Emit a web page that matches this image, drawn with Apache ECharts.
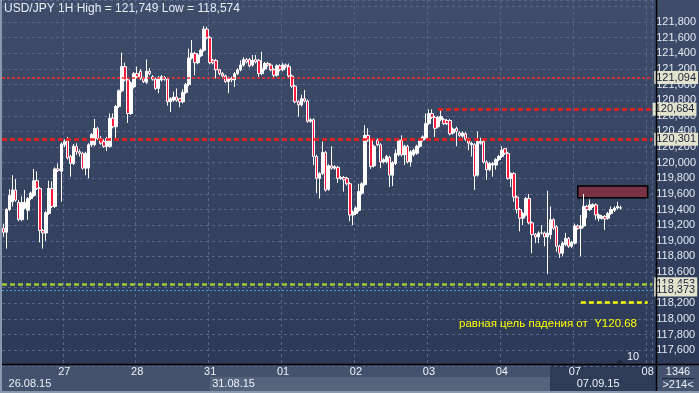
<!DOCTYPE html>
<html><head><meta charset="utf-8">
<script src="https://cdn.jsdelivr.net/npm/echarts@6/dist/echarts.min.js"></script>
<style>html,body{margin:0;padding:0;background:#34415f;}#c{width:699px;height:393px;}</style>
</head><body><div id="c"></div>
<script>
// ---- data (USD/JPY, 1H) ----
const opens = [119.16,119.11,119.40,119.50,119.65,119.49,119.27,119.42,119.39,119.54,119.58,119.77,119.67,119.13,119.10,119.35,119.67,119.44,119.92,119.89,
120.23,120.28,120.08,119.99,120.21,120.14,120.12,119.93,119.93,120.23,120.23,120.44,120.31,120.27,120.21,120.21,120.57,120.46,120.72,120.92,121.23,121.06,120.63,120.97,
121.14,121.17,121.08,121.03,121.17,121.10,121.07,120.95,121.06,121.09,121.07,120.78,120.80,120.84,120.82,120.78,120.90,121.00,121.34,121.40,121.28,121.37,121.44,121.71,
121.60,121.31,121.31,121.19,121.14,121.11,121.04,121.08,121.06,121.14,121.19,121.25,121.32,121.32,121.25,121.32,121.31,121.14,121.20,121.27,121.25,121.19,121.12,121.24,
121.19,121.25,121.23,121.11,120.98,120.78,120.74,120.82,120.79,120.53,120.55,120.08,119.80,119.86,120.13,119.66,119.96,119.93,119.94,119.80,119.81,119.80,119.73,119.33,
119.35,119.39,119.61,119.72,120.35,120.29,119.96,120.29,120.23,120.01,120.01,120.07,119.84,119.99,120.10,120.29,120.10,120.21,120.01,120.10,120.12,120.21,120.29,120.32,
120.50,120.63,120.58,120.46,120.55,120.55,120.54,120.54,120.38,120.44,120.38,120.34,120.37,120.30,120.23,120.23,119.84,120.25,120.27,120.01,119.91,119.97,119.97,120.04,
120.08,120.18,120.12,119.80,119.86,119.56,119.40,119.29,119.33,119.54,119.23,119.08,119.05,119.10,119.10,119.05,119.08,119.27,119.18,118.93,118.84,118.95,119.03,118.93,
118.97,119.19,119.16,119.19,119.44,119.40,119.44,119.46,119.29,119.29,119.31,119.29,119.35,119.39,119.42,119.42];
const closes = [119.11,119.40,119.58,119.65,119.52,119.27,119.49,119.49,119.54,119.61,119.77,119.67,119.13,119.10,119.36,119.67,119.44,119.92,119.90,120.24,
120.27,120.06,119.99,120.21,120.14,120.12,119.93,120.12,120.23,120.36,120.44,120.31,120.25,120.21,120.31,120.57,120.46,120.72,120.92,121.23,121.06,120.63,121.02,121.14,
121.10,121.08,121.04,121.17,121.14,121.07,120.95,121.09,121.10,121.07,120.78,120.82,120.84,120.80,120.78,120.90,121.00,121.34,121.40,121.28,121.38,121.44,121.71,121.60,
121.28,121.28,121.19,121.14,121.11,121.04,121.08,121.06,121.14,121.19,121.25,121.32,121.29,121.24,121.31,121.29,121.14,121.20,121.27,121.25,121.19,121.12,121.24,121.19,
121.25,121.23,121.11,120.98,120.78,120.74,120.82,120.79,120.53,120.55,120.08,119.80,119.86,120.13,119.65,119.96,119.93,119.95,119.80,119.81,119.78,119.73,119.33,119.37,
119.42,119.63,119.73,120.35,120.29,119.95,120.21,120.23,120.01,120.04,120.08,119.84,120.00,120.12,120.29,120.10,120.21,120.01,120.14,120.16,120.21,120.29,120.33,120.50,
120.63,120.58,120.44,120.58,120.59,120.50,120.50,120.37,120.43,120.40,120.35,120.38,120.30,120.25,120.25,119.83,120.27,120.27,120.01,119.91,119.99,119.99,120.04,120.08,
120.16,120.12,119.80,119.86,119.56,119.40,119.29,119.35,119.54,119.23,119.08,119.05,119.10,119.10,119.05,119.10,119.27,119.16,118.93,118.84,118.97,119.03,118.93,118.98,
119.19,119.16,119.19,119.44,119.40,119.46,119.46,119.33,119.33,119.31,119.28,119.35,119.40,119.42,119.44,119.423];
const lows = [119.05,118.90,119.38,119.44,119.50,119.25,119.25,119.40,119.27,119.52,119.56,119.65,118.98,118.90,119.00,119.33,119.42,119.42,119.88,119.50,
120.20,120.04,119.82,119.97,120.10,120.08,119.91,119.84,119.80,120.20,120.21,120.29,120.23,120.19,120.15,120.19,120.44,120.31,120.70,120.90,121.04,120.51,120.61,120.95,
121.08,121.06,121.02,121.01,121.12,121.05,120.93,120.89,121.04,121.05,120.73,120.65,120.78,120.78,120.71,120.76,120.88,120.98,121.32,121.12,121.26,121.35,121.42,121.58,
121.26,121.26,121.08,121.12,121.08,121.02,120.89,121.03,120.97,121.12,121.17,121.23,121.27,121.22,121.23,121.27,121.10,121.12,121.18,121.23,121.17,121.09,121.10,121.17,
121.17,121.21,121.09,120.96,120.76,120.59,120.72,120.77,120.51,120.51,119.97,119.61,119.54,119.84,119.63,119.64,119.91,119.91,119.74,119.78,119.63,119.71,119.25,119.20,
119.33,119.37,119.59,119.70,120.27,119.92,119.94,120.21,119.93,119.99,119.99,119.69,119.70,119.97,120.08,120.08,119.97,119.99,119.95,120.08,120.10,120.19,120.27,120.30,
120.48,120.56,120.33,120.44,120.53,120.48,120.48,120.35,120.36,120.21,120.33,120.32,120.28,120.16,120.08,119.65,119.82,120.23,119.99,119.78,119.89,119.82,119.91,120.02,
120.06,120.10,119.78,119.69,119.50,119.35,119.12,119.20,119.31,119.21,118.84,118.97,118.97,119.08,118.93,118.574,119.02,119.14,118.86,118.78,118.80,118.93,118.91,118.91,
118.95,119.14,118.80,119.17,119.29,119.38,119.42,119.27,119.25,119.27,119.14,119.27,119.33,119.37,119.40,119.40];
const highs = [119.22,119.42,119.66,119.84,119.79,119.52,119.57,119.65,119.56,119.63,119.92,119.89,119.69,119.15,119.38,119.77,119.76,119.94,119.99,120.26,
120.30,120.33,120.10,120.24,120.25,120.17,120.14,120.14,120.25,120.38,120.56,120.46,120.34,120.30,120.33,120.63,120.63,120.74,120.94,121.41,121.28,121.08,121.04,121.16,
121.23,121.20,121.10,121.32,121.21,121.12,121.09,121.11,121.12,121.11,121.09,120.84,120.91,120.95,120.83,120.94,121.02,121.46,121.57,121.42,121.40,121.46,121.749,121.74,
121.62,121.33,121.33,121.20,121.16,121.13,121.10,121.10,121.16,121.21,121.31,121.35,121.34,121.34,121.38,121.38,121.33,121.42,121.29,121.29,121.27,121.21,121.26,121.26,
121.28,121.27,121.27,121.13,121.00,120.80,120.87,120.93,120.81,120.57,120.57,120.10,119.88,120.27,120.15,119.98,120.21,119.97,119.96,119.83,119.83,119.82,119.75,119.39,
119.44,119.73,119.75,120.48,120.44,120.31,120.23,120.31,120.25,120.06,120.10,120.09,120.02,120.17,120.31,120.35,120.23,120.23,120.16,120.18,120.23,120.31,120.35,120.63,
120.68,120.684,120.60,120.60,120.68,120.57,120.56,120.56,120.45,120.46,120.40,120.40,120.39,120.32,120.27,120.25,120.40,120.32,120.29,120.03,120.01,120.01,120.06,120.10,
120.21,120.19,120.14,119.88,119.88,119.58,119.42,119.37,119.56,119.60,119.25,119.10,119.12,119.20,119.12,119.64,119.44,119.29,119.20,118.95,118.99,119.10,119.05,119.00,
119.22,119.21,119.33,119.60,119.46,119.53,119.48,119.48,119.35,119.33,119.33,119.37,119.44,119.44,119.50,119.45];

// days shown on the time axis and number of hourly slots in each
const dayDates = ['26.08.15','27.08.15','28.08.15','31.08.15','01.09.15','02.09.15','03.09.15','04.09.15','07.09.15','08.09.15'];
const dayLabels = ['26','27','28','31','01','02','03','04','07','08'];
const daySlots = [20,24,24,24,24,24,24,24,24,2];
const weekStartDates = ['26.08.15','31.08.15','07.09.15'];

// price axis range and horizontal levels
const yMin = 117.4, yMax = 122.083, yStep = 0.2;
const resistance1 = 121.094, resistance2 = 120.684, support1 = 120.301;
const lastPrice = 119.423, greenLevel = 118.453, blueLevel = 118.373, targetLevel = 118.216;
const zoneTop = 119.70, zoneBottom = 119.55;
const titleText = 'USD/JPY 1H High = 121,749 Low = 118,574';
const noteText = 'равная цель падения от  Y120.68';

// ---- build ----
const cats = [], dayStartIdx = [], dayOfIdx = [];
daySlots.forEach((n, d) => {
  dayStartIdx.push(cats.length);
  for (let k = 0; k < n; k++) {
    const h = 24 - (d === daySlots.length - 1 ? 24 : n) + k;
    cats.push(dayDates[d] + ' ' + String(h).padStart(2, '0') + ':00');
    dayOfIdx.push(d);
  }
});
const weekStartIdx = weekStartDates.map(w => cats.findIndex(c => c.startsWith(w)));
const dimFrom = dayStartIdx[8];
const candles = opens.map((o, i) => [o, closes[i], lows[i], highs[i]]);
const fmt = v => v.toFixed(3).replace('.', ',');
const FONT = 'Liberation Sans, Arial, sans-serif';
const tag = (v) => ({show: true, position: 'end', distance: 2, formatter: fmt(v), backgroundColor: '#e2e2cd',
  color: '#18213a', fontSize: 11, fontFamily: FONT, lineHeight: 12, padding: [1, 2, 0, 2]});
const lastIdx = cats.length - 1;

const chart = echarts.init(document.getElementById('c'), null, {renderer: 'canvas'});
chart.setOption({
  animation: false,
  backgroundColor: {type: 'linear', x: 0, y: 0, x2: 0, y2: 1,
    colorStops: [{offset: 0, color: '#3f4d6b'}, {offset: 1, color: '#2b3856'}]},
  textStyle: {fontFamily: FONT},
  grid: {left: 2, right: 43, top: 0, bottom: 27.24, containLabel: false},
  xAxis: [{
    type: 'category', data: cats, boundaryGap: true,
    axisLine: {show: false}, axisTick: {show: false},
    axisLabel: {
      interval: (i) => dayStartIdx.indexOf(i) > 0,
      formatter: (v, i) => dayLabels[dayOfIdx[i]],
      color: (v, i) => (i >= dimFrom ? '#7f8da6' : '#eef2f8'),
      fontSize: 11, margin: 1
    },
    splitLine: {show: true, interval: (i) => dayStartIdx.indexOf(i) > 0,
      lineStyle: {color: '#56668a', width: 1, type: [3, 3]}}
  }, {
    type: 'category', data: cats, boundaryGap: true, position: 'bottom', offset: 12,
    axisLine: {show: false}, axisTick: {show: false}, splitLine: {show: false},
    axisLabel: {
      interval: (i) => weekStartIdx.indexOf(i) >= 0,
      formatter: (v, i) => (i === 0 ? '{f|' + v.split(' ')[0] + '}' : '{n|' + v.split(' ')[0] + '}'),
      align: 'left', fontSize: 11, margin: 1,
      color: (v, i) => (i >= dimFrom ? '#7f8da6' : '#eef2f8'),
      rich: {f: {padding: [0, 0, 0, 5], fontSize: 11}, n: {padding: [0, 0, 0, 2], fontSize: 11}}
    }
  }],
  yAxis: {
    type: 'value', position: 'right', min: yMin, max: yMax, interval: yStep,
    axisLine: {show: false}, axisTick: {show: false},
    splitLine: {show: true, lineStyle: {color: '#56668a', width: 1, type: [3, 3]}},
    axisLabel: {color: '#e4e9f2', fontSize: 11, margin: 4,
      formatter: v => (v > 121.9 || v < 117.5) ? '' : fmt(v)}
  },
  series: [{
    type: 'candlestick', data: candles, barWidth: 3, clip: true,
    itemStyle: {color: '#ffffff', color0: '#ff1b3d', borderColor: '#ffffff', borderColor0: '#ffffff', borderWidth: 1},
    markArea: {silent: true, data: [[
      {coord: [dayStartIdx[8] + 1, zoneTop], itemStyle: {color: '#7a3246', borderColor: '#000000', borderWidth: 1.5}},
      {coord: [lastIdx - 1, zoneBottom]}
    ]]},
    markLine: {
      silent: true, symbol: ['none', 'none'], animation: false,
      data: [
        {yAxis: resistance1, lineStyle: {color: '#ff2a2a', width: 1.5, type: [3, 2]}, label: tag(resistance1)},
        [{coord: [143, resistance2], lineStyle: {color: '#ff1a1a', width: 2.5, type: [5, 3]}, label: tag(resistance2)},
         {coord: [lastIdx, resistance2], lineStyle: {color: '#ff1a1a', width: 2.5, type: [5, 3]}, label: tag(resistance2)}],
        {yAxis: support1, lineStyle: {color: '#ff1a1a', width: 2.5, type: [5, 3]}, label: tag(support1)},
        {yAxis: lastPrice, lineStyle: {opacity: 0}, label: tag(lastPrice)},
        {yAxis: greenLevel, lineStyle: {color: '#9dcc3a', width: 2.5, type: [5, 3]}, label: tag(greenLevel)},
        {yAxis: blueLevel, lineStyle: {color: '#3a9ee6', width: 1, type: [2, 2]}, label: tag(blueLevel)},
        [{coord: [dayStartIdx[8] + 2, targetLevel], lineStyle: {color: '#ffff00', width: 2.5, type: [5, 3]}, label: {show: false}},
         {coord: [lastIdx - 1, targetLevel], lineStyle: {color: '#ffff00', width: 2.5, type: [5, 3]}, label: {show: false}}]
      ]
    }
  }],
  graphic: [
    {type: 'rect', z: -1, shape: {x: 0, y: 365, width: 699, height: 28}, style: {fill: '#44526e'}},
    {type: 'rect', z: -1, shape: {x: 210, y: 377, width: 340, height: 14}, style: {fill: '#55637d'}},
    {type: 'rect', z: -1, shape: {x: 550, y: 365, width: 106, height: 26}, style: {fill: '#2f3c58'}},
    {type: 'line', z: 10, shape: {x1: 0, y1: 364.5, x2: 699, y2: 364.5}, style: {stroke: '#000', lineWidth: 1.5}},
    {type: 'line', z: 10, shape: {x1: 656.5, y1: 0, x2: 656.5, y2: 393}, style: {stroke: '#000', lineWidth: 1.5}},
    {type: 'line', z: 10, shape: {x1: 1, y1: 0, x2: 1, y2: 393}, style: {stroke: '#8a98ae', lineWidth: 2}},
    {type: 'line', z: 10, shape: {x1: 0, y1: 392, x2: 699, y2: 392}, style: {stroke: '#8a98ae', lineWidth: 2}},
    {type: 'line', z: 10, shape: {x1: 662, y1: 378.5, x2: 694, y2: 378.5}, style: {stroke: '#1c2740', lineWidth: 1}},
    {type: 'text', z: 10, x: 678, y: 372, style: {text: '1346', fill: '#eef2f8', font: '11px ' + FONT, textAlign: 'center', textVerticalAlign: 'middle'}},
    {type: 'text', z: 10, x: 678, y: 385, style: {text: '>214<', fill: '#eef2f8', font: '11px ' + FONT, textAlign: 'center', textVerticalAlign: 'middle'}},
    {type: 'polygon', z: 10, shape: {points: [[616, 363], [624, 363], [620, 359]]}, style: {fill: '#1f2a40'}},
    {type: 'text', z: 10, x: 633, y: 357, style: {text: '10', fill: '#eef2f8', font: '11px ' + FONT, textAlign: 'center', textVerticalAlign: 'middle'}},
    {type: 'text', z: 10, x: 4, y: 9, style: {text: titleText, fill: '#e8edf5', font: '12px ' + FONT, textVerticalAlign: 'middle'}},
    {type: 'text', z: 10, x: 459, y: 324, style: {text: noteText, fill: '#ffff00', font: '11.5px ' + FONT, textVerticalAlign: 'middle'}}
  ]
});
</script></body></html>
